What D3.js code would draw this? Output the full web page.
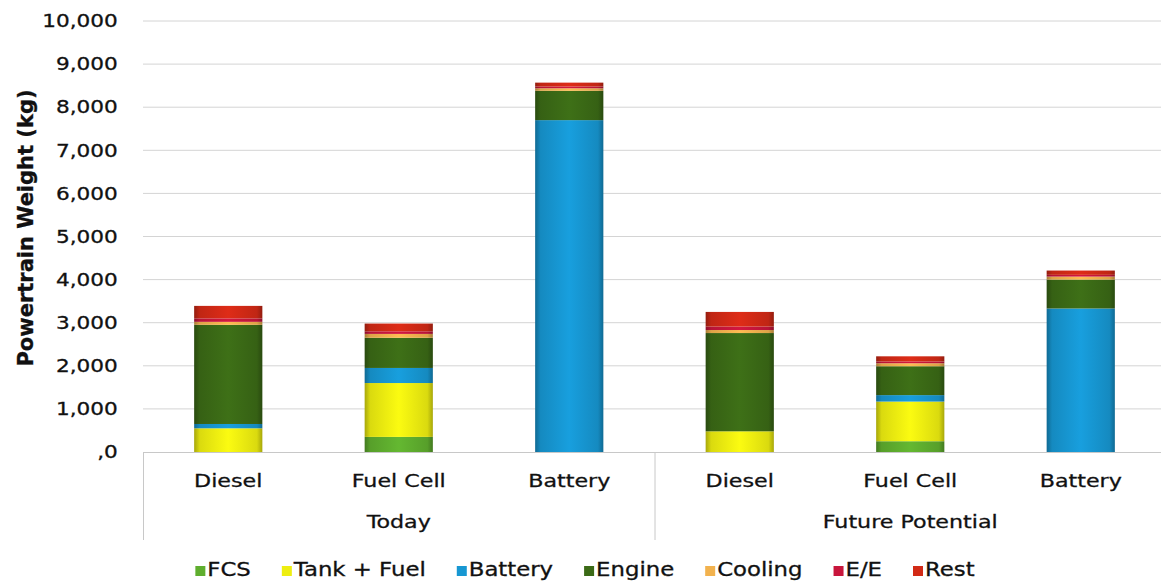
<!DOCTYPE html>
<html>
<head>
<meta charset="utf-8">
<script src="https://cdn.jsdelivr.net/npm/d3@7"></script>
<style>
  html, body { margin: 0; padding: 0; background: #fff; }
  svg { display: block; }
  text { font-family: "DejaVu Sans", Verdana, sans-serif; fill: #111; stroke: #111; stroke-width: 0.3px; }
</style>
</head>
<body>
<svg id="chart" width="1161" height="583"></svg>
<script>
// Powertrain weight breakdown (kg) per truck concept, today vs. future potential
const groups = ["Today", "Future Potential"];
const concepts = ["Diesel", "Fuel Cell", "Battery"];
const series = ["FCS", "Tank + Fuel", "Battery", "Engine", "Cooling", "E/E", "Rest"];
const seriesColors = ["#5fae2e", "#eeee10", "#1797d2", "#3b6a16", "#f2b24e", "#c8163c", "#d22a16"];

// values per series, in order: Today Diesel, Today Fuel Cell, Today Battery,
// Future Diesel, Future Fuel Cell, Future Battery
const fcs       = [0,    350,  0,    0,    250,  0];
const tankFuel  = [550,  1250, 0,    480,  920,  0];
const battery   = [100,  350,  7700, 0,    150,  3330];
const engine    = [2300, 700,  680,  2280, 670,  670];
const cooling   = [70,   90,   60,   70,   70,   70];
const ee        = [80,   60,   40,   80,   40,   40];
const rest      = [290,  180,  90,   340,  120,  100];

const yTicks = [0, 1000, 2000, 3000, 4000, 5000, 6000, 7000, 8000, 9000, 10000];
const yTickLabels = [",0", "1,000", "2,000", "3,000", "4,000", "5,000", "6,000", "7,000", "8,000", "9,000", "10,000"];
const yTitle = "Powertrain Weight (kg)";

const seriesValues = [fcs, tankFuel, battery, engine, cooling, ee, rest];
const categories = [];
groups.forEach(g => concepts.forEach(c => categories.push({ group: g, concept: c, key: g + "|" + c })));
const rows = categories.map((c, i) => {
  const r = { key: c.key };
  series.forEach((s, j) => { r[s] = seriesValues[j][i]; });
  return r;
});

const svg = d3.select("#chart");
const STRETCH = 1.2;   // text is drawn slightly wide
const plotLeft = 143, plotRight = 1166, plotTop = 21, plotBottom = 452;

const x = d3.scaleBand().domain(categories.map(c => c.key)).range([plotLeft, plotRight])
  .paddingInner(0.6).paddingOuter(0.3);
const y = d3.scaleLinear().domain([0, 10000]).range([plotBottom, plotTop]);

// bar gradients: darker at the sides, brighter toward the middle
const defs = svg.append("defs");
series.forEach((s, i) => {
  const base = d3.color(seriesColors[i]);
  const g = defs.append("linearGradient").attr("id", "grad" + i)
    .attr("x1", "0%").attr("x2", "100%").attr("y1", "0%").attr("y2", "0%");
  g.append("stop").attr("offset", "0%").attr("stop-color", base.darker(1.0));
  g.append("stop").attr("offset", "8%").attr("stop-color", base.darker(0.25));
  g.append("stop").attr("offset", "50%").attr("stop-color", base.brighter(0.15));
  g.append("stop").attr("offset", "92%").attr("stop-color", base.darker(0.25));
  g.append("stop").attr("offset", "100%").attr("stop-color", base.darker(1.0));
});

// gridlines
svg.append("g")
  .selectAll("line").data(yTicks.slice(1)).join("line")
  .attr("x1", plotLeft).attr("x2", 1161)
  .attr("y1", d => y(d)).attr("y2", d => y(d))
  .attr("stroke", "#d4d4d4").attr("stroke-width", 1);

// y axis labels
const yAxis = svg.append("g").attr("transform", `translate(${plotLeft},0)`)
  .call(d3.axisLeft(y).tickValues(yTicks).tickSize(0).tickPadding(21)
    .tickFormat((d, i) => yTickLabels[i]));
yAxis.select(".domain").remove();
yAxis.selectAll("text")
  .attr("font-size", 18).attr("font-family", "DejaVu Sans").attr("fill", "#111")
  .attr("transform", `scale(${STRETCH},1)`);

// y axis title
svg.append("text")
  .attr("transform", `translate(33,228) rotate(-90) scale(1,1.05)`)
  .attr("text-anchor", "middle").attr("font-size", 21).attr("font-weight", "bold")
  .text(yTitle);

// stacked bars
const stacked = d3.stack().keys(series)(rows);
svg.append("g").selectAll("g").data(stacked).join("g")
  .attr("fill", (d, i) => `url(#grad${i})`)
  .selectAll("rect").data(d => d).join("rect")
  .attr("x", d => x(d.data.key))
  .attr("width", x.bandwidth())
  .attr("y", d => y(d[1]))
  .attr("height", d => y(d[0]) - y(d[1]));

// category axis
svg.append("line").attr("x1", plotLeft).attr("x2", 1161)
  .attr("y1", plotBottom + 0.5).attr("y2", plotBottom + 0.5)
  .attr("stroke", "#c8c8c8");

const xAxis = svg.append("g").attr("transform", `translate(0,${plotBottom})`)
  .call(d3.axisBottom(x).tickSize(0).tickPadding(22)
    .tickFormat(k => k.split("|")[1]));
xAxis.select(".domain").remove();
xAxis.selectAll("text")
  .attr("font-size", 18.5).attr("font-family", "DejaVu Sans").attr("fill", "#111")
  .attr("transform", `scale(${STRETCH},1)`);

// group separators and group labels
const step = x.step();
const groupEdges = groups.map((g, i) => plotLeft + i * concepts.length * step)
  .concat([plotLeft + groups.length * concepts.length * step]);
svg.append("g").selectAll("line").data(groupEdges).join("line")
  .attr("x1", d => d + 0.5).attr("x2", d => d + 0.5)
  .attr("y1", plotBottom).attr("y2", 540)
  .attr("stroke", "#c8c8c8");

svg.append("g").selectAll("text").data(groups).join("text")
  .attr("transform", (g, i) => {
    const cx = (groupEdges[i] + groupEdges[i + 1]) / 2;
    return `translate(${cx},528) scale(${STRETCH},1)`;
  })
  .attr("text-anchor", "middle").attr("font-size", 18.5)
  .text(d => d);

// legend
const legend = svg.append("g");
const items = legend.selectAll("g").data(series).join("g");
items.append("rect").attr("width", 10).attr("height", 10).attr("y", -10)
  .attr("fill", (d, i) => seriesColors[i]);
items.append("text").attr("x", 10).attr("font-size", 19)
  .attr("transform", `scale(${STRETCH},1)`)
  .text(d => d);
let cursor = 0;
const offsets = [];
const GAP = 31;
items.each(function () {
  const t = d3.select(this).select("text").node();
  const w = (10 + t.getComputedTextLength()) * STRETCH;
  offsets.push(cursor);
  cursor += w + GAP;
});
const totalW = cursor - GAP;
const legendStart = 585 - totalW / 2;
items.attr("transform", (d, i) => `translate(${legendStart + offsets[i]},576)`);
</script>
</body>
</html>
